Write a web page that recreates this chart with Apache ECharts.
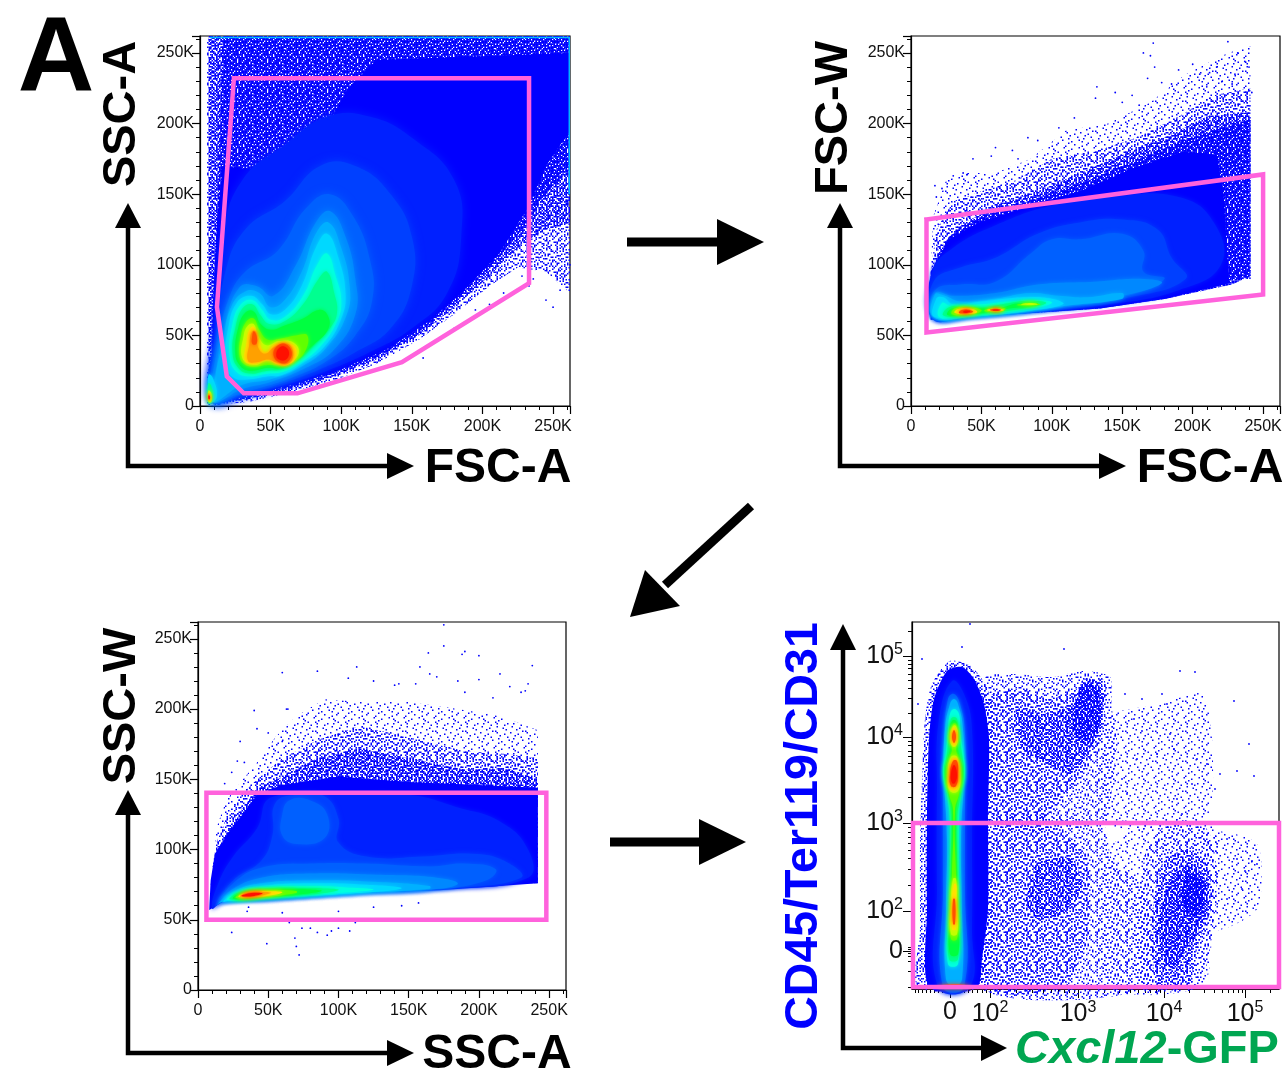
<!DOCTYPE html>
<html><head><meta charset="utf-8">
<style>html,body{margin:0;padding:0;background:#fff}#c{width:1286px;height:1075px}</style>
<script src="https://cdn.jsdelivr.net/npm/echarts@6/dist/echarts.min.js"></script>
</head><body><div id="c"></div>
<script>
// Each contour: [density level, x, y, x, y, ...]. Levels 1-9 = fraction of scatter, 10+ = pseudocolour rank.
const fscSscContours = [
[3,5,0,5,262,262,262,262,80,245,95,225,98,205,85,180,65,155,47,125,30,95,18,65,10,35,3],
[6,6,1,6,262,262,262,262,130,245,125,228,115,205,92,180,70,155,50,125,33,95,21,65,12,35,5],
[8,9,1,12,120,16,262,262,262,262,170,245,150,232,130,210,103,185,78,160,56,130,37,100,25,70,15,40,7],
[10,8,2,9,70,12,130,16,170,60,165,85,190,105,225,125,245,262,250,262,195,245,170,232,140,212,108,187,82,162,60,132,40,102,27,72,17,42,9],
[11,8,4,12,60,16,120,30,160,60,185,90,205,120,205,150,190,180,160,185,120,175,80,150,55,120,38,90,25,60,15,35,9],
[12,9,4,12,50,18,95,32,125,60,145,85,170,110,170,135,150,150,120,150,85,135,55,110,38,85,26,55,15,30,8],
[13,9,4,12,40,20,75,32,95,55,110,75,140,92,150,108,135,120,105,122,75,110,50,90,32,65,20,40,12,20,6],
[14,9,3,12,30,17,55,28,84,40,85,52,78,68,100,82,130,92,138,103,120,110,90,110,65,95,40,75,27,50,17,30,12],
[15,9,3,11,22,16,45,22,70,32,81,42,80,50,70,60,75,72,95,82,122,91,130,100,112,106,85,104,65,90,42,72,28,50,19,30,15],
[16,18,30,20,55,26,73,36,78,44,72,50,65,60,68,72,85,82,112,90,122,98,105,103,80,100,62,88,42,72,30,58,22,48,21,35,19,24,20],
[17,21,35,23,58,29,72,37,75,44,68,50,61,60,63,73,78,83,100,90,108,96,92,100,75,97,60,85,42,70,30,58,24,48,23,35,21,26,24],
[18,23,38,25,55,30,69,37,72,43,64,49,58,60,60,73,72,84,90,90,95,95,80,97,66,92,55,80,42,68,31,58,26,48,25,35,23,27,27],
[19,25,38,27,55,32,66,38,67,43,58,50,54,60,57,73,62,84,68,90,65,91,55,80,43,68,33,58,27,48,27,35,25,28,29],
[20,28,36,29,50,33,60,38,62,42,54,48,47,58,48,68,50,76,50,74,38,66,31,58,29,48,29,38,28,31,30],
[21,30,34,31,50,34,57,38,58,41,50,47,43,56,46,66,45,70,38,64,31,56,30,48,32,38,29],
[22,32,32,33,45,35,54,38,56,41,48,46,38,54,44,66,43,68,35,62,29,54,30,48,33,38,30],
[23,34,32,35,44,37,53,40,52,41,42,46,37,53,42,62,44,66,36,62,30,54,31,48,33,40,31],
[24,37,44,37,50,38,53,40,50,40,44],
[24,52,36,54,42,60,44,65,38,62,31,56,31],
[25,54,36,56,41,60,42,63,38,61,33,56,33],
[16,6,2,6,22,9,20,12,7,8,2],
[18,6,2,6,16,8,14,9,5],
[21,6,3,6,11,8,9,8,3],
[23,6,4,6,9,7,8,7,4],
[25,6,5,6,7.5,7,7,7,5]
];
const fscFswContours = [
[1,14,100,16,135,25,160,40,165,60,165,85,175,110,195,140,200,170,215,195,235,225,250,241,255,241,90],
[3,14,95,18,125,30,145,50,152,75,160,100,175,130,180,160,190,190,205,215,220,241,225,241,90],
[6,14,90,20,112,35,128,60,142,90,152,120,165,150,178,180,190,210,205,241,208,241,90],
[8,14,61,14,95,27,120,48,133,86,146,122,158,157,173,193,188,217,196,241,203,241,92,228,86,181,76,134,69,44,63],
[10,14,61,14,95,27,118,48,130,86,142,122,153,157,168,193,180,217,178,222,150,224,115,226,87,181,76,134,69,44,63],
[11,15,62,15,95,30,112,60,128,100,142,140,148,190,148,215,130,220,100,190,82,140,72,80,66,40,63],
[12,16,63,16,88,35,98,60,105,90,122,120,130,150,132,175,125,185,105,195,90,150,76,100,69,50,64],
[13,16,63,17,82,35,86,60,88,85,108,100,118,120,118,150,122,165,110,165,95,180,90,150,77,100,69,50,64],
[14,16,63,17,80,30,78,60,80,90,86,130,88,165,90,178,87,150,78,110,71,70,66,40,63],
[15,16,63,17,79,24,78,35,74,60,76,85,80,105,78,125,77,150,80,150,76,110,71,70,66,40,63],
[16,17,63,18,76,23,77,30,72,50,74,80,77,100,76,108,72,80,67,50,64],
[17,20,63,22,73,28,71,50,72,70,74,90,75,100,73,85,69,55,65,35,63.5],
[18,23,64,27,70,40,70,52,70,70,73,85,74.5,96,73,85,70,60,66.5,40,64],
[19,26,64.5,29,69,40,70,52,69,65,70,75,72.5,90,73,88,71,70,69,55,66.5,40,64.5],
[20,29,65,31,69,42,70,50,68,48,66,40,64.5],
[20,52,67.5,58,69.5,67,69,65,67,57,66.5],
[20,75,71.5,85,73,92,72,85,71],
[21,78,72,85,73,90,72,85,71.5],
[22,31,66,33,68.5,42,69,47,66.5,40,65],
[22,54,68,60,69,66,68,60,67],
[24,34,66,36,68,42,68,44,66.5,38,65.5],
[24,56,68,60,68.8,64,68,60,67.3],
[25,37,66.3,38,67.5,42,67.2,40,66],
[25,58,68,60,68.4,63,68,60,67.6]
];
const sscSswContours = [
[1,12,95,13,115,20,135,32,150,42,162,55,180,70,195,90,207,120,205,150,205,185,200,215,195,242,185,242,100],
[3,10,85,13,105,20,122,30,138,42,150,60,165,85,178,115,188,150,180,190,170,220,168,242,165,242,100],
[6,9,75,13,98,22,115,32,130,42,143,60,152,85,165,115,172,150,165,190,157,220,158,242,150,242,76],
[10,8,57,9,78,12,97,23,114,34,128,42,139,60,146,100,152,150,148,200,146,242,144,242,76,172,71,113,69,53,65,18,63],
[11,10,58,14,75,25,95,42,115,52,137,100,139,150,139,185,130,215,120,235,100,235,80,172,72,113,69,53,65,18,63],
[12,12,60,25,78,45,92,53,110,55,133,70,139,90,138,100,122,100,105,120,95,160,95,195,97,218,92,230,80,172,72,113,69,53,65,18,63],
[13,13,60,25,76,45,87,80,90,120,90,165,88,190,90,212,86,205,78,172,72,113,69,53,65,18,63],
[13,60,125,65,135,80,135,92,125,90,108,70,104,60,110],
[14,14,61,25,72,45,80,80,83,130,82,170,80,185,76,172,72,113,69,53,65,18,63],
[15,15,62,25,70,45,76,80,78,125,77,165,74,165,72,113,69,53,65,18,63],
[16,18,63,27,70,45,74,80,76,120,75,145,72.5,113,69,53,65.5,25,64],
[17,21,64,29,70,45,73,80,74,105,73,125,71.5,100,69,53,66],
[18,23,64.5,30,70,50,72.5,80,72.5,100,71.5,90,69,53,66],
[19,25,65,31,69.5,50,71.5,78,71.5,88,70.5,72,68,45,65.7],
[20,27,65.5,33,69.5,50,71,70,70.5,70,69,45,66],
[22,29,66.3,35,69.6,50,70.3,60,69.5,45,66.5],
[23,30,66.5,35,69.3,48,69.8,52,69,40,66.6],
[25,31,67,38,69,46,68.8,40,67]
];
// Cxcl12-GFP / lineage plot: biexponential display channels
const gfpLinContours = [
[1,195,270,250,285,290,295,300,250,300,190,290,166,195,166],
[1,295,155,345,145,345,80,300,60],
[1,190,130,232,165,300,165,305,100,300,50,290,2,195,2],
[2,72,310,100,315,140,312,170,318,198,312,200,280,205,250,200,200,192,166,75,166],
[3,75,290,110,300,135,290,165,300,175,310,193,308,192,270,185,240,170,215,150,190,130,166,75,170],
[5,105,280,130,275,160,285,172,310,190,305,190,265,175,235,160,215,135,225,110,240],
[7,160,275,172,305,186,300,188,265,175,245,165,250],
[2,67,2,75,165,190,165,200,130,232,100,235,2],
[3,70,2,80,160,145,160,175,130,175,50,150,2],
[5,115,85,125,125,160,130,170,100,150,75,125,70],
[2,230,2,232,130,255,165,295,160,305,110,298,40,285,2],
[4,245,2,240,70,250,125,275,140,295,125,300,85,285,40,275,2],
[6,250,30,248,75,258,110,280,125,295,105,292,70,275,40,262,20],
[8,270,85,275,115,290,110,292,85,282,72],
[3,6,2,8,60,8,140,10,210,13,270,20,305,38,328,60,322,78,295,82,250,78,166,82,60,70,2],
[10,17,2,15,80,15,170,17,250,22,290,35,318,50,322,62,310,72,285,77,250,76,170,76,80,70,30,65,2],
[11,26,2,25,100,25,200,27,270,40,308,52,295,60,260,60,150,60,60,58,2],
[13,31,2,31,100,31,195,32,250,36,290,42,295,48,285,53,255,53,190,53,100,52,2],
[15,34,10,34,80,35,150,32,215,33,260,38,285,42,290,46,285,51,260,52,215,49,150,50,80,50,10,42,3],
[17,36,25,37,80,38,165,35,195,31,215,34,238,36,258,38,275,42,280,47,275,48,258,51,238,53,215,49,195,47,165,47,80,46,25],
[18,37,30,38,80,39,170,37,190,32,215,35,235,37,255,39,270,42,272,45,270,47,255,50,235,52,215,48,190,45,170,46,80,46,30],
[19,38,35,38,70,39,120,40,175,38,190,33,215,36,232,38,240,37,255,40,268,44,268,47,255,46,240,48,232,51,215,46,190,44,175,45,120,46,70,46,35],
[20,39,50,38,80,40,115,41,180,37,195,35,215,38,232,40,240,38,252,41,265,44,265,46,252,44,240,46,232,49,215,47,195,43,180,44,115,46,80,45,50],
[21,39,55,39,85,41,110,44,110,45,85,45,55],
[21,38,198,36,215,39,232,45,232,48,215,46,198],
[21,38,252,41,263,44,263,46,252,44,243,40,243],
[22,40,60,40,90,42,105,44,105,44,90,44,60],
[22,38,200,37,215,40,230,45,230,47,215,45,200],
[22,39,252,42,262,45,252,42,243],
[24,41,65,41,90,43,90,43,65],
[24,39,203,38,215,41,228,45,228,46,215,44,203],
[24,40,252,42,259,44,252,42,246],
[25,40,206,39,215,42,224,45,215,43,206],
[24,25,1,30,4,55,4,60,1]
];

// Outlying events
const fscSscDots = [[158,34],[245,75],[250,70],[255,82],[240,105],[258,95],[236,90],[228,92],[215,80],[205,72],[195,68],[262,100],[245,100],[252,92],[233,85],[180,55],[170,48]];
const fscFswDots = [[172,257],[225,258],[165,250],[170,248],[173,240],[190,238],[212,236],[217,240],[178,229],[185,228],[200,242],[230,235],[237,244],[240,240],[232,250],[168,232],[132,226],[145,222],[157,220],[162,213],[131,218],[150,215],[116,204],[105,197],[72,181],[83,190],[90,188],[60,183],[57,177],[76,175],[44,175],[30,163],[37,165],[40,164],[17,156],[22,154],[18,148],[242,222],[228,228],[221,230],[210,226],[205,235]];
const sscSswDots = [[175,260],[175,245],[190,241],[188,239],[200,238],[164,240],[215,225],[238,231],[60,226],[85,227],[113,230],[158,230],[165,225],[170,223],[185,220],[190,212],[200,221],[210,208],[222,216],[230,212],[233,213],[235,218],[125,220],[140,217],[143,218],[155,218],[107,222],[40,199],[42,186],[50,183],[63,200],[64,200],[30,177],[60,177],[28,163],[33,162],[24,155],[19,147],[40,50],[24,41],[49,33],[69,37],[70,31],[72,25],[74,44],[80,44],[85,41],[92,39],[95,42],[100,44],[108,42],[112,48],[60,55],[55,50],[65,48],[75,50],[90,50],[125,59],[145,60],[157,62],[100,56],[35,56],[36,59],[48,50]];
const gfpLinDots = [[58,365],[50,342],[152,340],[268,318],[283,317],[322,288],[337,245],[342,213],[308,215],[325,218],[213,295],[230,290],[250,295],[255,285],[222,270],[230,258],[245,235],[258,255],[262,240],[285,230],[295,225],[303,200],[210,210],[215,195],[225,230],[280,205],[270,175],[265,190],[340,128],[333,118],[345,125],[315,150],[325,130],[330,100],[315,90],[10,330],[6,285]];

// Gates, tick positions and labels
const fscSscGate = [[24,232],[233,232],[233,87],[143,31],[69,9],[31,9],[19,21],[12,70],[24,232]];
const fscFswGate = [[11,132],[250,164],[250,79],[11,52],[11,132]];
const sscSswGate = [[6,140.5],[248,140.5],[248,50],[6,50],[6,140.5]];
const gfpLinGate = [[1,166],[367,166],[367,2],[1,2],[1,166]];
const linearMax = 262;
const linearStep = 50;
const biexMax = 367;
const biexMajorTicks = [38,78,166,252,333];
const biexTickLabels = ['0','10{s|2}','10{s|3}','10{s|4}','10{s|5}'];
const biexMinorX = [3,6,10,14,18,22,26,30,33,36,40,42,44,48,52,56,60,65,70,74,104,120,131,139,146,152,157,162,192,207,218,226,233,238,244,248,277,292,302,310,316,321,326,330,358];
const biexMinorY = [2,18,28,33,36,40,42,104,120,131,139,146,152,157,162,192,207,218,226,233,238,244,248,276,291,301,309,315,321,325,329,358];

const paletteByLevel = {10:'#0000ff',11:'#0020ff',12:'#0040ff',13:'#0060ff',14:'#0088ff',15:'#00b0ff',16:'#00d8ff',17:'#00ffe0',18:'#00ff90',19:'#00ff40',20:'#60ff00',21:'#c0ff00',22:'#ffe000',23:'#ffa000',24:'#ff5000',25:'#ff1000'};
const speckleTile = ["73902618457302961584","18465093720184657392","52037184965037218406","96281450371962850173","30749216853047192685","64182507396281403759","27950361848175926041","81436792050362718594","05273948617049385216","49618025739584160372","72305186944120937568","16849370252967384105","58021647398405126793","93764815026731859240","20597346181694072358","67138092455203867419","34820751969178340526","80965423170546291837","15472938604832579160","46091576283719065284"];
const speckleCache = {};
function speckle(level){
  if(speckleCache[level]) return speckleCache[level];
  const cell=1.5, cv=document.createElement('canvas');
  cv.width=cv.height=30;
  const g=cv.getContext('2d');
  g.fillStyle='#0000ff';
  speckleTile.forEach((row,j)=>{for(let i=0;i<row.length;i++){ if(+row[i]<level) g.fillRect(i*cell,j*cell,cell,cell); }});
  return speckleCache[level]={image:cv,repeat:'repeat'};
}
const GATE='#ff62dc', FONT='"Liberation Sans", Arial, sans-serif';
const grids=[{left:200,top:36,width:370,height:370},{left:911,top:36,width:369,height:370},{left:198,top:622,width:368,height:368},{left:912,top:622,width:367,height:367}];
const grid=grids.map(g=>({...g,show:true,borderColor:'#000',borderWidth:1.2,backgroundColor:'#fff',containLabel:false}));

function linAxis(i,dim){
  const base={type:'value',gridIndex:i,min:0,max:linearMax,interval:linearStep,position:dim==='x'?'bottom':'left',splitLine:{show:false},
   axisLine:{show:true,onZero:false,lineStyle:{color:'#000',width:1.2}},
   axisTick:{show:true,length:8,lineStyle:{color:'#000',width:1.2}},
   minorTick:{show:true,splitNumber:5,length:4,lineStyle:{color:'#000',width:1}},
   axisLabel:{show:true,showMaxLabel:false,color:'#111',fontFamily:FONT,fontSize:16,margin:dim==='x'?13:6,hideOverlap:false,
     formatter:v=>v===0?'0':v+'K'}};
  return base;
}
function biexAxis(i,dim,minor){
  const major=!minor;
  return {type:'value',gridIndex:i,min:0,max:biexMax,position:dim==='x'?'bottom':'left',splitLine:{show:false},
    axisLine:{show:major,onZero:false,lineStyle:{color:'#000',width:1.2}},
    axisTick:{show:true,length:major?9:4,customValues:major?biexMajorTicks:(dim==='x'?biexMinorX:biexMinorY),lineStyle:{color:'#000',width:1}},
    axisLabel:{show:major,customValues:biexMajorTicks,margin:dim==='x'?11:9,color:'#111',fontFamily:FONT,fontSize:25,
      formatter:v=>biexTickLabels[biexMajorTicks.indexOf(v)]||'',
      rich:{s:{fontSize:16,fontFamily:FONT,color:'#111',padding:[0,0,12,0]}}}};
}
const xAxis=[linAxis(0,'x'),linAxis(1,'x'),linAxis(2,'x'),biexAxis(3,'x',false),biexAxis(3,'x',true)];
const yAxis=[linAxis(0,'y'),linAxis(1,'y'),linAxis(2,'y'),biexAxis(3,'y',false),biexAxis(3,'y',true)];

function contourSeries(c,idx,blur,speckleSmooth){
  const level=c[0], verts=[];
  for(let k=1;k<c.length;k+=2) verts.push([c[k],c[k+1]]);
  return {type:'custom',xAxisIndex:idx,yAxisIndex:idx,clip:false,silent:true,z:2,data:verts,encode:{x:0,y:1},animation:false,
    renderItem:(p,api)=>{
      if(p.dataIndex!==0) return null;
      const pts=verts.map(v=>api.coord(v));
      if(level<10) return {type:'polygon',shape:{points:pts,smooth:speckleSmooth},style:{fill:speckle(level)}};
      if(level===10) return {type:'polygon',shape:{points:pts,smooth:speckleSmooth},style:{fill:paletteByLevel[10]}};
      const col=paletteByLevel[level];
      const b=level<=15?blur:Math.min(blur,4);
      return {type:'polygon',shape:{points:pts,smooth:.45},style:{fill:col,shadowColor:col,shadowBlur:b}};
    }};
}
const series=[];
function panel(idx,contours,dots,gate,blur,speckleSmooth){
  contours.forEach(c=>series.push(contourSeries(c,idx,blur,speckleSmooth)));
  series.push({type:'scatter',xAxisIndex:idx,yAxisIndex:idx,data:dots,symbolSize:1.8,itemStyle:{color:'#0000ff',opacity:1},silent:true,z:3,clip:false,animation:false});
  series.push({type:'line',xAxisIndex:idx,yAxisIndex:idx,data:gate,symbol:'none',clip:false,silent:true,z:5,animation:false,
    lineStyle:{color:GATE,width:4.5,join:'miter',cap:'square'}});
}
panel(0,fscSscContours,fscSscDots,fscSscGate,10,0);
panel(1,fscFswContours,fscFswDots,fscFswGate,5,0);
panel(2,sscSswContours,sscSswDots,sscSswGate,5,0);
panel(3,gfpLinContours,gfpLinDots,gfpLinGate,5,.25);
// thin saturated event rows along the top and right edges of the first plot
series.push({type:'line',xAxisIndex:0,yAxisIndex:0,data:[[7,261],[261.5,261],[261.5,150]],symbol:'none',silent:true,z:4,animation:false,lineStyle:{color:'#00b8ff',width:1.5}});

function arrow(points,headTip,headA,headB,w){
  return [{type:'polyline',silent:true,shape:{points},style:{stroke:'#000',lineWidth:w,fill:null,lineJoin:'miter'}},
          {type:'polygon',silent:true,shape:{points:[headTip,headA,headB]},style:{fill:'#000'}}];
}
function label(text,x,y,size,rot,fill,extra){
  return {type:'text',silent:true,x,y,rotation:rot?Math.PI/2:0,style:Object.assign({text,fill:fill||'#000',font:`bold ${size}px ${FONT}`,textAlign:'center',textVerticalAlign:'middle'},extra||{})};
}
const graphic=[].concat(
  arrow([[128,212],[128,466],[395,466]],[128,203],[115,228],[141,228],4.5),
  [{type:'polygon',silent:true,shape:{points:[[414,466],[387,453],[387,479]]},style:{fill:'#000'}}],
  arrow([[840,212],[840,466],[1108,466]],[840,203],[827,228],[853,228],4.5),
  [{type:'polygon',silent:true,shape:{points:[[1126,466],[1099,453],[1099,479]]},style:{fill:'#000'}}],
  arrow([[128,798],[128,1053],[395,1053]],[128,790],[115,815],[141,815],4.5),
  [{type:'polygon',silent:true,shape:{points:[[414,1053],[387,1040],[387,1066]]},style:{fill:'#000'}}],
  arrow([[843,632],[843,1048],[988,1048]],[843,624],[830,650],[856,650],4.5),
  [{type:'polygon',silent:true,shape:{points:[[1007,1048],[981,1035],[981,1061]]},style:{fill:'#000'}}],
  arrow([[627,242],[725,242]],[764,242],[717,219],[717,265],9),
  arrow([[610,842],[707,842]],[746,842],[699,819],[699,865],9),
  arrow([[751,506],[665,585]],[630,617],[645,570],[680,606],9),
  [label('A',56,62,106,false),
   label('SSC-A',122,114,47,true),
   label('FSC-A',498,469,48,false),
   label('FSC-W',834,118,47,true),
   label('FSC-A',1210,469,48,false),
   label('SSC-W',122,706,47,true),
   label('SSC-A',497,1055,48,false),
   label('CD45/Ter119/CD31',804,826,46.5,true,'#0000ff'),
   label('{i|Cxcl12}{b|-GFP}',1147,1050,47,false,'#00a651',{rich:{
      i:{font:`italic bold 47px ${FONT}`,fill:'#00a651'},
      b:{font:`bold 47px ${FONT}`,fill:'#00a651'}}})
  ]);
const chart=echarts.init(document.getElementById('c'),null,{renderer:'canvas',width:1286,height:1075});
chart.setOption({animation:false,backgroundColor:'#fff',textStyle:{fontFamily:FONT},grid,xAxis,yAxis,series,graphic:{elements:graphic}});
</script></body></html>
